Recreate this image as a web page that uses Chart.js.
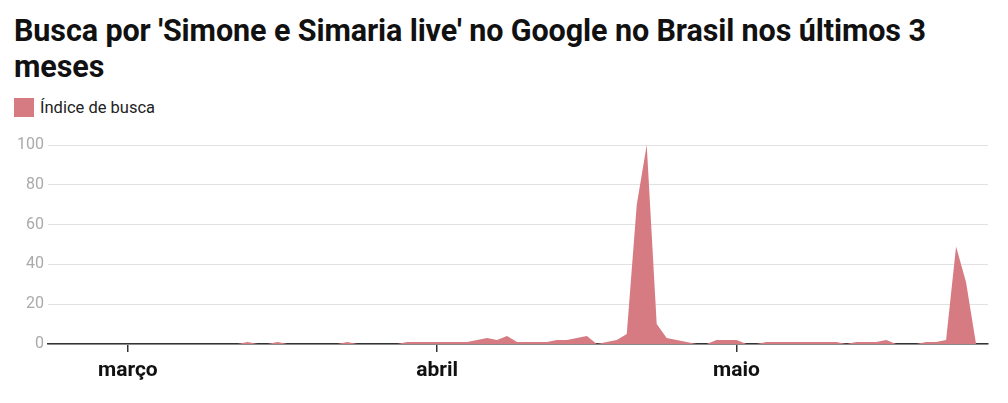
<!DOCTYPE html>
<html>
<head>
<meta charset="utf-8">
<script src="https://cdn.jsdelivr.net/npm/chart.js@4/dist/chart.umd.min.js"></script>
<style>
  html, body { margin: 0; padding: 0; background: #fff; }
  body { width: 1008px; height: 403px; position: relative; overflow: hidden; font-family: Roboto, "Noto Sans", sans-serif; }
  h1 { position: absolute; left: 14px; top: 13px; margin: 0; font-size: 30.5px; line-height: 36px; font-weight: 700; color: #111; white-space: nowrap; letter-spacing: -0.1px; }
  .legend { position: absolute; left: 14px; top: 98px; font-size: 16.5px; color: #222; line-height: 19px; }
  .legend i { display: inline-block; width: 20px; height: 19px; background: #d67b82; vertical-align: top; margin-right: 6px; }
  #wrap { position: absolute; left: 0; top: 130px; width: 1008px; height: 273px; }
</style>
</head>
<body>
<h1>Busca por 'Simone e Simaria live' no Google no Brasil nos últimos 3<br>meses</h1>
<div class="legend"><i></i>Índice de busca</div>
<div id="wrap"><canvas id="chart"></canvas></div>
<script>
(function(){
  // days counted from 1 March (day 0); series starts a week before
  var firstDay = -7;
  var seriesLabel = 'Índice de busca';
  var values = [
    0, 0, 0, 0, 0, 0, 0,                 // 22-28 fev
    0, 0, 0, 0, 0, 0, 0, 0, 0, 0,        // 1-10 mar
    0, 0, 1, 0, 0, 1, 0, 0, 0, 0,        // 11-20 mar
    0, 0, 1, 0, 0, 0, 0, 0, 1, 1,        // 21-30 mar
    1, 1, 1, 1, 1, 2, 3, 2, 4, 1,        // 31 mar - 9 abr
    1, 1, 1, 2, 2, 3, 4, 0, 1, 2,        // 10-19 abr
    5, 70, 100, 10, 3, 2, 1, 0, 0, 2,    // 20-29 abr
    2, 2, 0, 0, 1, 1, 1, 1, 1, 1,        // 30 abr - 9 mai
    1, 1, 0, 1, 1, 1, 2, 0, 0, 0,        // 10-19 mai
    1, 1, 2, 49, 31, 0                   // 20-25 mai
  ];
  var monthTicks = [0, 31, 61];
  var monthLabels = ['março', 'abril', 'maio'];
  var yTicks = [0, 20, 40, 60, 80, 100];

  var points = values.map(function(v, i){ return { x: firstDay + i, y: v }; });

  var fillColor = '#d67b82';
  var gridColor = '#e2e2e2';
  var axisColor = '#333';

  new Chart(document.getElementById('chart').getContext('2d'), {
    type: 'line',
    data: {
      datasets: [{
        label: seriesLabel,
        data: points,
        borderWidth: 0,
        borderColor: fillColor,
        backgroundColor: fillColor,
        fill: 'origin',
        pointRadius: 0,
        tension: 0
      }]
    },
    options: {
      responsive: true,
      maintainAspectRatio: false,
      animation: false,
      layout: { padding: { left: 0, right: 20, top: 15, bottom: 0 } },
      plugins: { legend: { display: false }, tooltip: { enabled: false } },
      scales: {
        x: {
          type: 'linear',
          min: -8,
          max: 86.2,
          afterBuildTicks: function(scale){
            scale.ticks = monthTicks.map(function(d){ return { value: d }; });
          },
          afterFit: function(scale){ scale.height = 59; },
          grid: { drawOnChartArea: false, drawTicks: true, tickLength: 8, color: axisColor, lineWidth: 1.5 },
          border: { display: true, color: axisColor, width: 1.5 },
          ticks: {
            autoSkip: false,
            maxRotation: 0,
            padding: 6,
            color: '#111',
            font: { family: 'Roboto', size: 21, weight: 'bold' },
            callback: function(v){
              var i = monthTicks.indexOf(v);
              return i >= 0 ? monthLabels[i] : '';
            }
          }
        },
        y: {
          min: 0,
          max: 100,
          afterBuildTicks: function(scale){
            scale.ticks = yTicks.map(function(v){ return { value: v }; });
          },
          afterFit: function(scale){ scale.width = 48; },
          grid: { color: gridColor, lineWidth: 1, drawTicks: false },
          border: { display: false },
          ticks: {
            padding: 4,
            color: '#aaa',
            font: { family: 'Roboto', size: 16 }
          }
        }
      }
    }
  });
})();
</script>
</body>
</html>
